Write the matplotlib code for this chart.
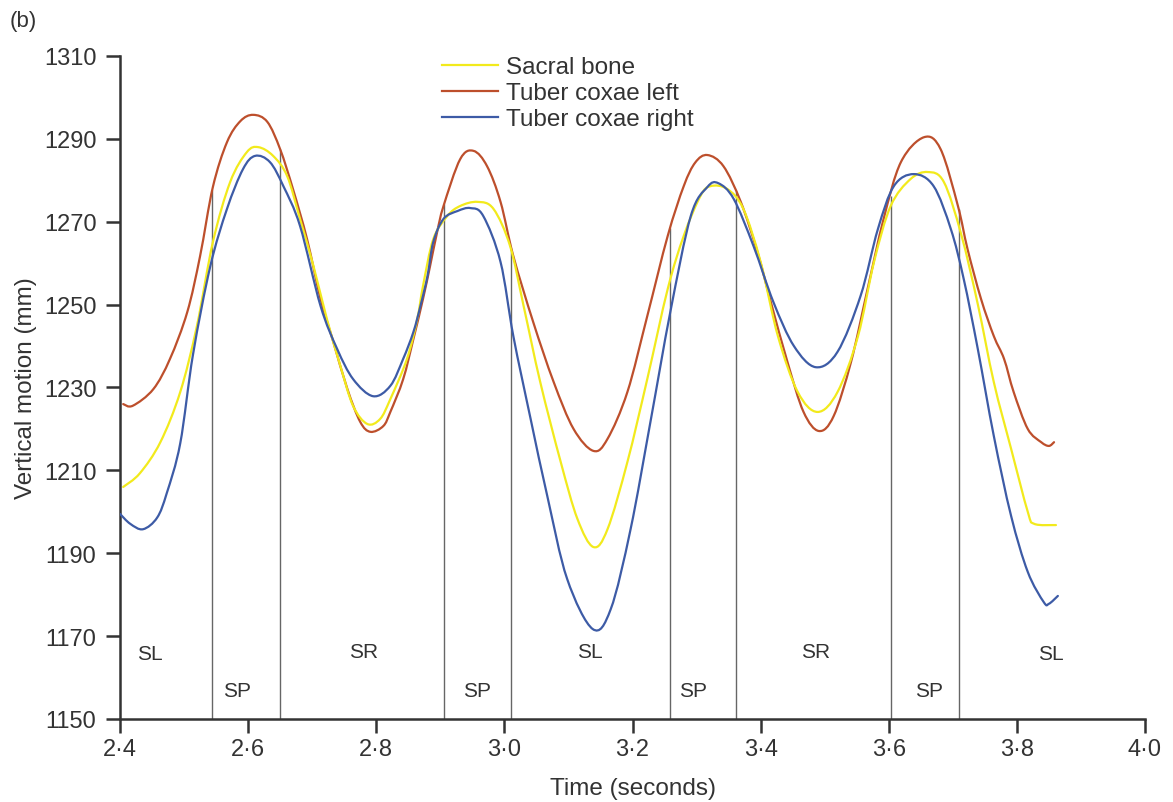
import matplotlib
matplotlib.use("Agg")
import matplotlib.pyplot as plt
from matplotlib.path import Path
from matplotlib.patches import PathPatch
from matplotlib.lines import Line2D
import numpy as np

plt.rcParams['font.family'] = ['Liberation Sans', 'DejaVu Sans']

# ---- data ----
left_t = [2.405, 2.420, 2.452, 2.478, 2.505, 2.525, 2.545, 2.567, 2.588, 2.608, 2.630, 2.650, 2.670,
          2.692, 2.713, 2.733, 2.755, 2.775, 2.791, 2.811, 2.822, 2.842, 2.858, 2.873, 2.884, 2.895,
          2.905, 2.931, 2.952, 2.973, 2.994, 3.014, 3.045, 3.077, 3.108, 3.139, 3.161, 3.192, 3.223,
          3.255, 3.280, 3.298, 3.317, 3.342, 3.369, 3.395, 3.416, 3.442, 3.467, 3.491, 3.514, 3.541,
          3.567, 3.592, 3.619, 3.655, 3.681, 3.708, 3.723, 3.744, 3.764, 3.780, 3.795, 3.817, 3.838,
          3.850, 3.858]
left_y = [1226.0, 1225.6, 1229.6, 1236.9, 1248.2, 1261.7, 1278.4, 1289.2, 1294.3, 1295.8, 1294.1,
          1287.5, 1277.9, 1265.8, 1251.4, 1241.0, 1229.6, 1221.7, 1219.3, 1220.7, 1224.1, 1232.0,
          1241.7, 1251.4, 1259.3, 1267.5, 1273.8, 1285.1, 1287.1, 1283.4, 1274.8, 1261.7, 1245.8,
          1231.3, 1220.0, 1214.7, 1217.6, 1228.9, 1247.2, 1266.6, 1278.6, 1284.3, 1286.1, 1283.4,
          1274.8, 1262.7, 1250.6, 1236.1, 1224.1, 1219.5, 1223.1, 1236.1, 1253.8, 1270.7, 1284.4,
          1290.4, 1287.5, 1273.8, 1263.4, 1251.4, 1242.4, 1236.9, 1228.9, 1220.0, 1216.8, 1215.9,
          1216.8]

sacral_t = [2.405, 2.431, 2.463, 2.494, 2.520, 2.545, 2.572, 2.598, 2.616, 2.639, 2.661, 2.681,
            2.702, 2.723, 2.744, 2.764, 2.786, 2.806, 2.822, 2.848, 2.864, 2.873, 2.889, 2.911,
            2.931, 2.958, 2.983, 3.009, 3.030, 3.056, 3.088, 3.114, 3.139, 3.161, 3.192, 3.223,
            3.255, 3.280, 3.306, 3.322, 3.348, 3.373, 3.400, 3.427, 3.458, 3.489, 3.520, 3.552,
            3.577, 3.603, 3.634, 3.661, 3.686, 3.713, 3.739, 3.764, 3.791, 3.817, 3.827, 3.861]
sacral_y = [1206.0, 1209.3, 1216.8, 1228.9, 1244.8, 1265.1, 1279.6, 1286.8, 1288.0, 1285.9,
            1281.0, 1270.7, 1259.3, 1246.5, 1235.2, 1225.5, 1221.2, 1222.4, 1227.2, 1236.9,
            1246.5, 1254.5, 1265.8, 1271.4, 1273.8, 1274.8, 1273.1, 1264.1, 1249.7, 1231.3,
            1212.0, 1198.3, 1191.5, 1195.8, 1212.0, 1232.0, 1253.8, 1266.6, 1276.2, 1278.6,
            1277.9, 1273.1, 1260.3, 1242.4, 1228.9, 1224.1, 1228.9, 1242.4, 1260.3, 1273.8,
            1280.3, 1282.0, 1279.6, 1267.0, 1250.1, 1231.3, 1215.2, 1200.0, 1197.1, 1196.8]

right_t = [2.400, 2.416, 2.436, 2.458, 2.473, 2.494, 2.514, 2.541, 2.567, 2.592, 2.611, 2.634,
           2.655, 2.681, 2.713, 2.739, 2.764, 2.795, 2.822, 2.842, 2.858, 2.869, 2.880, 2.889,
           2.905, 2.927, 2.947, 2.967, 2.994, 3.014, 3.041, 3.067, 3.098, 3.138, 3.166, 3.197,
           3.228, 3.259, 3.291, 3.317, 3.334, 3.358, 3.389, 3.420, 3.452, 3.486, 3.520, 3.556,
           3.583, 3.608, 3.639, 3.670, 3.697, 3.717, 3.739, 3.764, 3.791, 3.817, 3.842, 3.850,
           3.864]
right_y = [1199.5, 1197.1, 1195.8, 1198.6, 1204.5, 1216.5, 1238.0, 1259.3, 1273.1, 1282.7,
           1285.9, 1284.4, 1278.6, 1269.0, 1249.7, 1239.3, 1232.0, 1227.9, 1230.4, 1236.9,
           1243.4, 1249.7, 1256.9, 1265.1, 1270.7, 1272.6, 1273.3, 1271.4, 1260.3, 1242.4,
           1222.4, 1203.8, 1183.8, 1171.7, 1176.5, 1195.8, 1221.7, 1248.2, 1271.4, 1278.4,
           1279.3, 1275.5, 1264.1, 1250.6, 1240.0, 1234.9, 1238.6, 1252.1, 1268.2, 1278.6,
           1281.5, 1278.6, 1268.2, 1256.2, 1239.3, 1218.3, 1199.0, 1185.5, 1178.2, 1177.8,
           1179.7]

series_names = ["Sacral bone", "Tuber coxae left", "Tuber coxae right"]

phase_bounds = [2.544, 2.650, 2.906, 3.011, 3.259, 3.361, 3.603, 3.709]
phase_names = ["SL", "SP", "SR", "SP", "SL", "SP", "SR", "SP", "SL"]
phase_x = [2.447, 2.583, 2.781, 2.958, 3.134, 3.295, 3.486, 3.663, 3.853]
phase_y = [1165.7, 1156.8, 1166.2, 1156.8, 1166.2, 1156.8, 1166.2, 1156.8, 1165.7]

x_ticks = [2.4, 2.6, 2.8, 3.0, 3.2, 3.4, 3.6, 3.8, 4.0]
x_ticklabels = ["2·4", "2·6", "2·8", "3·0", "3·2", "3·4", "3·6", "3·8", "4·0"]
y_ticks = [1150, 1170, 1190, 1210, 1230, 1250, 1270, 1290, 1310]

# ---- styling ----
c_sacral = "#f2ea1c"
c_left = "#bd4f2c"
c_right = "#3d5ba6"
c_axis = "#333333"
c_text = "#333333"
lw = 1.6


def smooth_path(xs, ys):
    """Bezier path passing through the given points (Catmull-Rom style tangents)."""
    p = np.column_stack([xs, ys]).astype(float)
    n = len(p)
    verts = [p[0]]
    codes = [Path.MOVETO]
    for i in range(n - 1):
        p0 = p[i - 1] if i > 0 else p[i]
        p1 = p[i]
        p2 = p[i + 1]
        p3 = p[i + 2] if i + 2 < n else p[i + 1]
        c1 = p1 + (p2 - p0) / 6.0
        c2 = p2 - (p3 - p1) / 6.0
        verts += [c1, c2, p2]
        codes += [Path.CURVE4] * 3
    return Path(verts, codes)


fig = plt.figure(figsize=(11.73, 8.03), dpi=100)
ax = fig.add_axes([120 / 1173, 83 / 803, (1145 - 120) / 1173, (746 - 83) / 803])

ax.set_xlim(2.4, 4.0)
ax.set_ylim(1150, 1310)

# phase boundary lines, up to the tuber coxae left curve
tops = np.interp(phase_bounds, left_t, left_y)
ax.vlines(phase_bounds, 1150, tops, colors="#666666", linewidth=1.0, zorder=1)

for xs, ys, col, z in [(left_t, left_y, c_left, 2),
                       (sacral_t, sacral_y, c_sacral, 3),
                       (right_t, right_y, c_right, 4)]:
    ax.add_patch(PathPatch(smooth_path(xs, ys), facecolor="none", edgecolor=col,
                           lw=lw, zorder=z, joinstyle="round", capstyle="round"))

for name, px, py in zip(phase_names, phase_x, phase_y):
    ax.text(px, py, name, ha="center", va="center", fontsize=15, color=c_text)

for s in ["top", "right"]:
    ax.spines[s].set_visible(False)
for s in ["left", "bottom"]:
    ax.spines[s].set_color(c_axis)
    ax.spines[s].set_linewidth(1.8)

ax.set_xticks(x_ticks)
ax.set_xticklabels(x_ticklabels)
ax.set_yticks(y_ticks)
ax.tick_params(axis="both", direction="out", length=10, width=1.8, color=c_axis,
               labelsize=17, labelcolor=c_text)
ax.tick_params(axis="x", pad=4)
ax.tick_params(axis="y", pad=7)

ax.set_xlabel("Time (seconds)", fontsize=17.5, color=c_text, labelpad=12)
ax.set_ylabel("Vertical motion (mm)", fontsize=17.5, color=c_text, labelpad=5)

handles = [Line2D([], [], color=c, lw=lw) for c in (c_sacral, c_left, c_right)]
leg = fig.legend(handles, series_names, loc="upper left",
                 bbox_to_anchor=(442 / 1173, 1 - 57 / 803),
                 frameon=False, fontsize=17.5, handlelength=2.3, handletextpad=0.35,
                 labelspacing=0.17, borderpad=0, borderaxespad=0)
for t in leg.get_texts():
    t.set_color(c_text)

fig.text(10 / 1173, 1 - 21 / 803, "(b)", fontsize=16, color=c_text, ha="left", va="center")

fig.savefig("out.png", dpi=100, facecolor="white")
